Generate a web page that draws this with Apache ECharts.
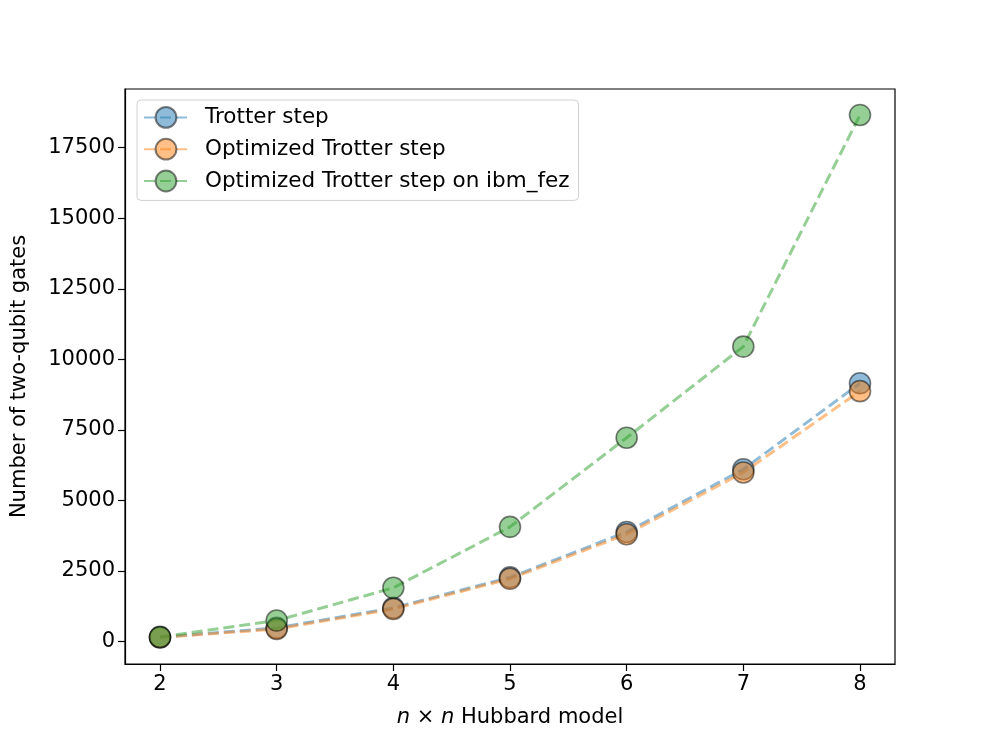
<!DOCTYPE html>
<html><head><meta charset="utf-8">
<script src="https://cdn.jsdelivr.net/npm/echarts@6/dist/echarts.min.js"></script>
<style>html,body{margin:0;padding:0;background:#fff}#c{width:996px;height:747px}</style>
</head><body><div id="c"></div>
<script>
const xValues = [2, 3, 4, 5, 6, 7, 8];
const trotter = [150, 480, 1190, 2270, 3880, 6100, 9150];
const optimized = [140, 440, 1150, 2220, 3800, 5990, 8870];
const ibmFez = [160, 740, 1900, 4060, 7220, 10450, 18660];
const yTicks = [0, 2500, 5000, 7500, 10000, 12500, 15000, 17500];
const seriesNames = ['Trotter step', 'Optimized Trotter step', 'Optimized Trotter step on ibm_fez'];
const colors = ['#1f77b4', '#ff7f0e', '#2ca02c'];

const font = 'DejaVu Sans';
const fs = 21;
const chart = echarts.init(document.getElementById('c'));
function mk(name, vals, color) {
  return {
    name: name, type: 'line',
    data: xValues.map((x, i) => [x, vals[i]]),
    symbol: 'circle', symbolSize: 21,
    itemStyle: { color: color, opacity: 0.5, borderColor: '#000', borderWidth: 1.6 },
    lineStyle: { color: color, opacity: 0.5, width: 3, type: [11, 5] },
    emphasis: { disabled: true },
    animation: false
  };
}
chart.setOption({
  animation: false,
  textStyle: { fontFamily: font },
  grid: { left: 125, right: 101, top: 89, bottom: 83, show: true, borderColor: '#000', borderWidth: 1.2, containLabel: false, outerBoundsMode: 'none' },
  legend: {
    left: 137, top: 100, orient: 'vertical',
    data: seriesNames,
    itemWidth: 44, itemHeight: 26, itemGap: 9,
    backgroundColor: '#fff', borderColor: '#d0d0d0', borderWidth: 1, borderRadius: 4,
    padding: [6, 9, 8, 6],
    textStyle: { fontSize: 21.5, fontFamily: font, color: '#000', padding: [0, 0, 0, 12] }
  },
  xAxis: {
    type: 'value', min: 1.7, max: 8.3,
    name: '{i|n} × {i|n} Hubbard model', nameLocation: 'middle', nameGap: 43,
    nameTextStyle: { fontSize: fs, fontFamily: font, color: '#000', rich: { i: { fontStyle: 'italic', fontSize: fs, fontFamily: font } } },
    axisLine: { show: true, onZero: false, lineStyle: { color: '#000', width: 1.2 } },
    axisTick: { show: true, inside: false, length: 7, lineStyle: { color: '#000', width: 1.2 }, customValues: xValues },
    axisLabel: { show: true, fontSize: fs, color: '#000', margin: 10, customValues: xValues, fontFamily: font },
    splitLine: { show: false }
  },
  yAxis: {
    type: 'value', min: -800, max: 19580,
    name: 'Number of two-qubit gates', nameLocation: 'middle', nameGap: 95,
    nameTextStyle: { fontSize: fs, fontFamily: font, color: '#000' },
    axisLine: { show: true, onZero: false, lineStyle: { color: '#000', width: 1.2 } },
    axisTick: { show: true, inside: false, length: 7, lineStyle: { color: '#000', width: 1.2 }, customValues: yTicks },
    axisLabel: { show: true, fontSize: fs, color: '#000', margin: 10, customValues: yTicks, fontFamily: font, formatter: v => String(v) },
    splitLine: { show: false }
  },
  series: [mk(seriesNames[0], trotter, colors[0]), mk(seriesNames[1], optimized, colors[1]), mk(seriesNames[2], ibmFez, colors[2])]
});
</script></body></html>
